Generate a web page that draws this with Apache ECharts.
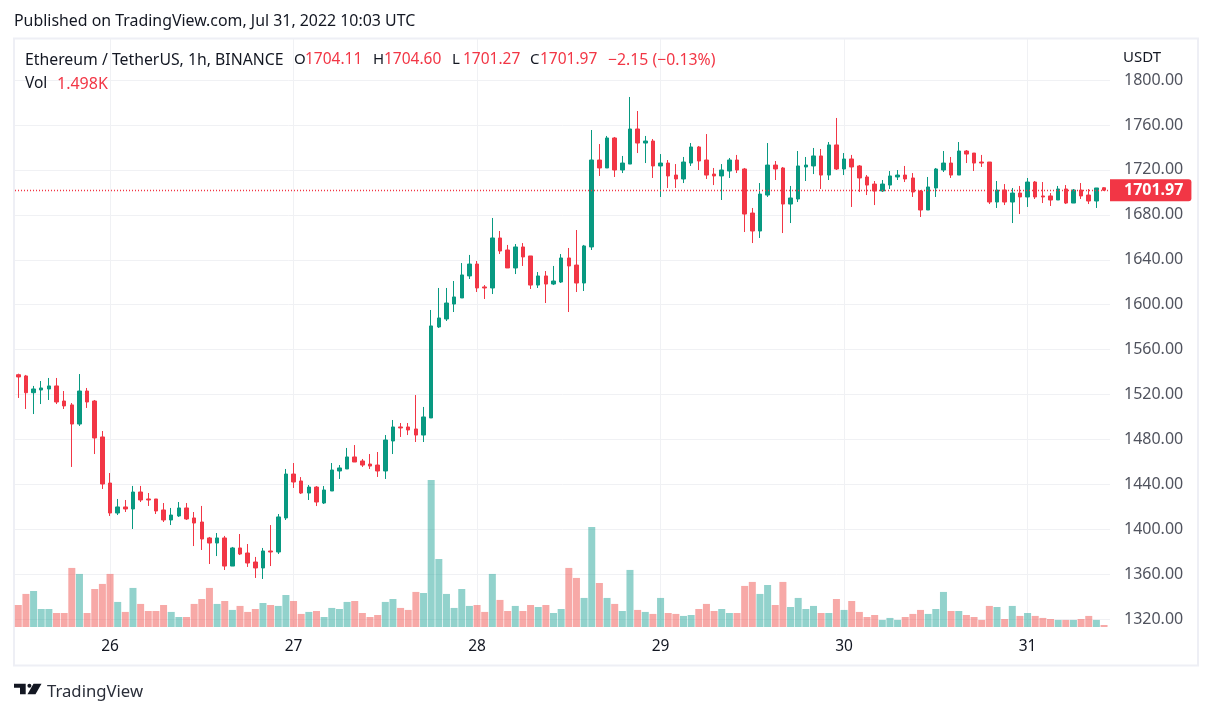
<!DOCTYPE html>
<html>
<head>
<meta charset="utf-8">
<style>html,body{margin:0;background:#fff}#c{width:1212px;height:714px}</style>
<script src="https://cdn.jsdelivr.net/npm/echarts@6/dist/echarts.min.js"></script>
</head>
<body>
<div id="c"></div>
<script>
// ETH/USDT 1h, 25 Jul 12:00 .. 31 Jul 10:00 (index 12 = 26 Jul 00:00)
const opens = [1537.7,1536.6,1521.7,1524.1,1525.0,1527.7,1514.3,1510.8,1493.8,1523.2,1514.3,1482.3,1441.3,1414.6,1420.0,1418.2,1433.3,1427.1,1427.1,1417.3,1408.4,1412.0,1419.1,1410.2,1406.6,1392.4,1387.9,1392.4,1367.4,1383.5,1379.0,1371.0,1365.7,1380.8,1379.9,1410.2,1449.3,1443.1,1432.4,1437.7,1423.5,1434.2,1452.0,1453.8,1464.5,1460.9,1458.2,1457.3,1452.0,1478.7,1491.2,1491.2,1489.4,1484.0,1499.2,1580.2,1587.3,1600.6,1606.0,1625.6,1636.2,1615.8,1614.9,1659.4,1648.7,1632.7,1651.4,1643.4,1617.5,1625.6,1618.4,1620.2,1641.6,1635.3,1619.3,1651.4,1728.8,1721.7,1748.4,1719.9,1725.2,1756.4,1743.9,1745.7,1723.5,1726.1,1715.4,1711.9,1726.1,1740.4,1728.8,1716.3,1714.6,1719.0,1728.8,1720.8,1681.6,1665.6,1697.6,1724.3,1721.7,1689.6,1694.1,1722.6,1723.5,1732.4,1715.4,1742.2,1720.8,1729.7,1723.5,1713.7,1707.4,1701.2,1706.5,1713.7,1715.4,1712.8,1701.2,1684.3,1703.9,1719.9,1726.1,1715.4,1736.8,1735.0,1727.0,1727.0,1691.4,1702.1,1691.4,1699.4,1695.9,1709.2,1696.8,1696.8,1693.2,1703.0,1690.5,1702.1,1697.6,1692.3,1704.11];
const closes = [1535.7,1521.7,1525.0,1525.9,1527.7,1513.4,1509.9,1493.8,1523.2,1513.4,1481.4,1440.4,1414.6,1420.0,1418.2,1433.3,1426.2,1426.2,1416.4,1408.4,1412.8,1419.1,1409.3,1405.7,1391.5,1387.9,1392.4,1367.4,1383.5,1378.1,1370.1,1365.7,1380.8,1379.9,1411.1,1449.3,1442.2,1432.4,1437.7,1424.4,1435.1,1452.9,1454.7,1464.5,1460.0,1457.3,1456.4,1452.0,1479.6,1491.2,1490.3,1488.5,1484.0,1500.1,1581.1,1588.2,1601.5,1606.9,1626.5,1636.2,1614.9,1614.9,1659.4,1647.8,1632.7,1651.4,1642.5,1617.5,1625.6,1618.4,1621.1,1641.6,1634.5,1619.3,1652.3,1728.8,1721.7,1748.4,1719.9,1726.1,1756.4,1743.9,1745.7,1723.5,1726.1,1714.6,1711.9,1727.0,1740.4,1727.9,1715.4,1714.6,1719.9,1728.8,1719.9,1680.7,1665.6,1698.5,1724.3,1720.8,1689.6,1695.0,1723.5,1724.3,1732.4,1715.4,1742.2,1720.8,1729.7,1722.6,1712.8,1706.5,1701.2,1707.4,1714.6,1715.4,1711.9,1700.3,1684.3,1704.8,1720.8,1726.1,1715.4,1736.8,1734.1,1726.1,1726.1,1691.4,1702.1,1691.4,1699.4,1695.9,1709.2,1695.9,1695.9,1693.2,1703.0,1690.5,1702.1,1696.8,1692.3,1703.9,1701.97];
const lows = [1517.0,1507.2,1502.7,1511.6,1515.2,1511.6,1507.2,1455.6,1492.1,1508.1,1467.1,1436.0,1412.0,1412.8,1415.5,1400.4,1424.4,1420.9,1413.7,1406.6,1403.9,1411.1,1408.4,1385.2,1381.7,1369.2,1376.3,1363.9,1367.4,1377.2,1366.6,1356.8,1355.9,1367.4,1378.1,1408.4,1436.9,1431.5,1426.2,1420.8,1422.6,1434.2,1444.9,1453.8,1460.0,1455.6,1453.8,1446.7,1444.9,1467.1,1482.3,1484.0,1477.8,1477.8,1499.2,1579.3,1585.5,1593.5,1606.0,1622.9,1611.3,1605.1,1609.5,1645.1,1632.7,1627.3,1634.5,1614.0,1614.9,1601.5,1617.5,1619.3,1593.5,1611.3,1612.2,1648.7,1714.6,1721.7,1713.7,1717.2,1725.2,1735.0,1726.1,1712.8,1695.9,1703.9,1703.9,1708.3,1723.5,1719.9,1711.9,1706.5,1693.2,1712.8,1717.2,1664.7,1654.9,1659.4,1695.9,1711.0,1663.8,1672.7,1691.4,1710.1,1716.3,1703.0,1711.0,1719.9,1715.4,1687.0,1700.3,1697.6,1688.7,1700.3,1703.0,1711.0,1709.2,1695.9,1678.1,1684.3,1695.9,1718.1,1712.8,1715.4,1726.1,1719.0,1722.6,1689.6,1686.1,1688.7,1672.7,1680.7,1687.0,1694.1,1690.5,1687.9,1693.2,1689.6,1690.5,1694.1,1689.6,1686.1,1701.27];
const highs = [1538.6,1537.5,1527.7,1532.1,1534.8,1534.8,1523.2,1512.5,1538.3,1525.9,1515.2,1487.6,1450.2,1427.1,1426.2,1438.7,1438.7,1432.4,1427.1,1423.5,1419.1,1424.4,1423.5,1415.5,1420.9,1393.3,1396.8,1394.2,1384.4,1395.9,1387.0,1375.5,1383.5,1403.9,1413.7,1453.8,1459.1,1446.6,1439.5,1438.6,1438.6,1459.1,1457.3,1472.5,1475.1,1462.7,1467.1,1468.9,1484.0,1497.4,1494.7,1494.7,1519.6,1509.0,1595.3,1614.9,1614.9,1621.1,1637.1,1644.3,1638.9,1617.5,1677.2,1665.6,1653.2,1654.0,1654.9,1643.4,1629.1,1630.0,1634.5,1645.1,1650.5,1666.5,1653.2,1755.5,1743.0,1750.2,1749.3,1732.4,1784.9,1772.4,1750.2,1747.5,1734.1,1728.8,1725.2,1731.5,1743.9,1741.3,1751.9,1721.7,1725.2,1730.6,1733.3,1721.7,1686.1,1708.3,1743.9,1727.9,1722.6,1705.7,1736.8,1731.5,1739.5,1738.6,1744.8,1766.2,1735.0,1733.3,1724.3,1715.4,1710.1,1711.0,1719.0,1719.9,1723.5,1717.2,1702.1,1713.7,1721.7,1736.8,1731.5,1744.8,1737.7,1735.0,1733.3,1727.0,1710.1,1707.4,1703.9,1705.7,1712.8,1710.1,1709.2,1699.4,1705.7,1706.5,1703.0,1708.3,1703.0,1703.9,1704.60];
// volume in thousands
const volumes = [16.5,24.8,27,13.5,13.5,10.5,10.5,44.3,39.8,10.5,28.5,32.3,39.8,18.8,11.3,29.3,17.3,12,12,16.5,11.3,7.5,7.5,17.3,21,29.3,17.3,19.5,12.8,15.8,11.3,13.5,18,16.5,15.8,24,19.5,9.8,11.3,12,7.5,14.3,13.5,18.8,19.5,10.5,7.5,9,18.8,21,14.3,12.8,26.3,25.5,110.3,51,24.8,14.3,28.5,15.8,16.5,11.3,39.8,20.3,12,15.8,12,16.5,15,16.5,10.5,13.5,44.3,36.8,21.8,75,33,21.8,17.3,12,42.8,12.8,11.3,9.8,21.8,10.5,9.8,8.3,9,13.5,17.3,12,13.5,10.5,10.5,30.8,33.8,24.8,31.5,16.5,33.8,15,21.8,13.5,15.8,10.5,10.5,21,12.8,19.5,11.3,7.5,9,5.3,6.8,5.3,7.5,9.8,12.8,9.8,13.5,26.3,12,12,9,7.5,5.3,15.8,15,6,15.8,8.3,10.5,8.3,6.8,6,5.3,5.3,5.3,6,8.3,5.3,1.498];
const dayLabels = {0: '26', 24: '27', 48: '28', 72: '29', 96: '30', 120: '31'};
const lastClose = 1701.97;

const UP = '#089981', DOWN = '#F23645', GRID = '#f0f1f4', TEXT = '#131722', AXIS = '#50535e';
const FONT = '"Noto Sans"';

const candleData = opens.map((o, i) => [i - 12, o, closes[i], lows[i], highs[i]]);
const volumeData = volumes.map((v, i) => ({
  value: [i - 12, v],
  itemStyle: { color: closes[i] >= opens[i] ? 'rgba(38,166,154,0.5)' : 'rgba(239,83,80,0.5)' }
}));

function txt(x, y, text, fill, size, weight) {
  return { type: 'text', x, y, z: 100, silent: true, style: {
    text, fill: fill || TEXT, font: (weight || 'normal') + ' ' + (size || 16) + 'px ' + FONT, textVerticalAlign: 'middle'
  } };
}

const chart = echarts.init(document.getElementById('c'), null, { renderer: 'canvas' });
chart.setOption({
  animation: false,
  backgroundColor: '#fff',
  grid: { left: 15, top: 39, width: 1095, height: 588 },
  xAxis: {
    type: 'value', min: -12.43, max: 130.78, minInterval: 24, maxInterval: 24,
    axisLine: { show: false }, axisTick: { show: false },
    splitLine: { show: true, showMinLine: false, showMaxLine: false, lineStyle: { color: GRID, width: 1 } },
    axisLabel: { margin: 12, color: TEXT, fontSize: 15.5, fontFamily: FONT, showMinLabel: false, showMaxLabel: false,
      formatter: v => dayLabels[v] || '' }
  },
  yAxis: [{
    type: 'value', position: 'right', min: 1313.15, max: 1836.5, minInterval: 40, maxInterval: 40,
    axisLine: { show: false }, axisTick: { show: false },
    splitLine: { show: true, showMinLine: false, showMaxLine: false, lineStyle: { color: GRID, width: 1 } },
    axisLabel: { margin: 14, color: AXIS, fontSize: 16, fontFamily: FONT, padding: [4, 0, 0, 0], showMinLabel: false, showMaxLabel: false,
      formatter: v => (v % 40 === 0 ? v.toFixed(2) : '') }
  }, {
    type: 'value', position: 'left', min: 0, max: 441, show: false, splitLine: { show: false }
  }],
  series: [{
    type: 'bar', name: 'Vol', xAxisIndex: 0, yAxisIndex: 1, barWidth: 7, data: volumeData, silent: true, z: 1
  }, {
    type: 'candlestick', name: 'ETHUSDT', xAxisIndex: 0, yAxisIndex: 0, barWidth: 4, silent: true, z: 3,
    encode: { x: 0, y: [1, 2, 3, 4] },
    itemStyle: { color: UP, color0: DOWN, borderColor: UP, borderColor0: DOWN, borderWidth: 1 },
    data: candleData,
    markLine: {
      silent: true, symbol: 'none', animation: false,
      lineStyle: { color: DOWN, type: [1, 2], width: 1.3 },
      label: { position: 'end', distance: 0, formatter: p => p.value.toFixed(2), color: '#fff', fontWeight: 'bold',
        fontSize: 16, fontFamily: FONT, backgroundColor: DOWN, padding: [3, 8, 3, 14], borderRadius: [0, 3, 3, 0] },
      data: [{ yAxis: lastClose }]
    }
  }],
  graphic: [
    { type: 'rect', silent: true, shape: { x: 14, y: 38.5, width: 1184, height: 627 }, z: -1,
      style: { fill: 'none', stroke: '#eeeff5', lineWidth: 2 } },
    txt(14, 21, 'Published on TradingView.com, Jul 31, 2022 10:03 UTC', TEXT, 15.9),
    txt(25, 60, 'Ethereum / TetherUS, 1h, BINANCE', TEXT, 15.8),
    txt(294, 60, 'O', TEXT, 15), txt(305, 60, '1704.11', DOWN, 15.5),
    txt(373, 60, 'H', TEXT, 15), txt(384, 60, '1704.60', DOWN, 15.5),
    txt(452, 60, 'L', TEXT, 15), txt(463, 60, '1701.27', DOWN, 15.5),
    txt(530, 60, 'C', TEXT, 15), txt(540, 60, '1701.97', DOWN, 15.5),
    txt(608, 60, '\u22122.15 (\u22120.13%)', DOWN, 15.8),
    txt(25, 84, 'Vol', TEXT, 15.5), txt(57, 84, '1.498K', DOWN),
    txt(1123, 58, 'USDT', TEXT, 15),
    { type: 'polygon', silent: true, shape: { points: [[14, 683.7], [25.7, 683.7], [25.7, 694.3], [20, 694.3], [20, 687.7], [14, 687.7]] }, style: { fill: TEXT } },
    { type: 'circle', silent: true, shape: { cx: 29.4, cy: 685.7, r: 2 }, style: { fill: TEXT } },
    { type: 'polygon', silent: true, shape: { points: [[33.5, 683.7], [41.5, 683.7], [35.5, 694.3], [27.5, 694.3]] }, style: { fill: TEXT } },
    txt(47, 692, 'TradingView', '#2a2e39', 16.7)
  ]
});
</script>
</body>
</html>
